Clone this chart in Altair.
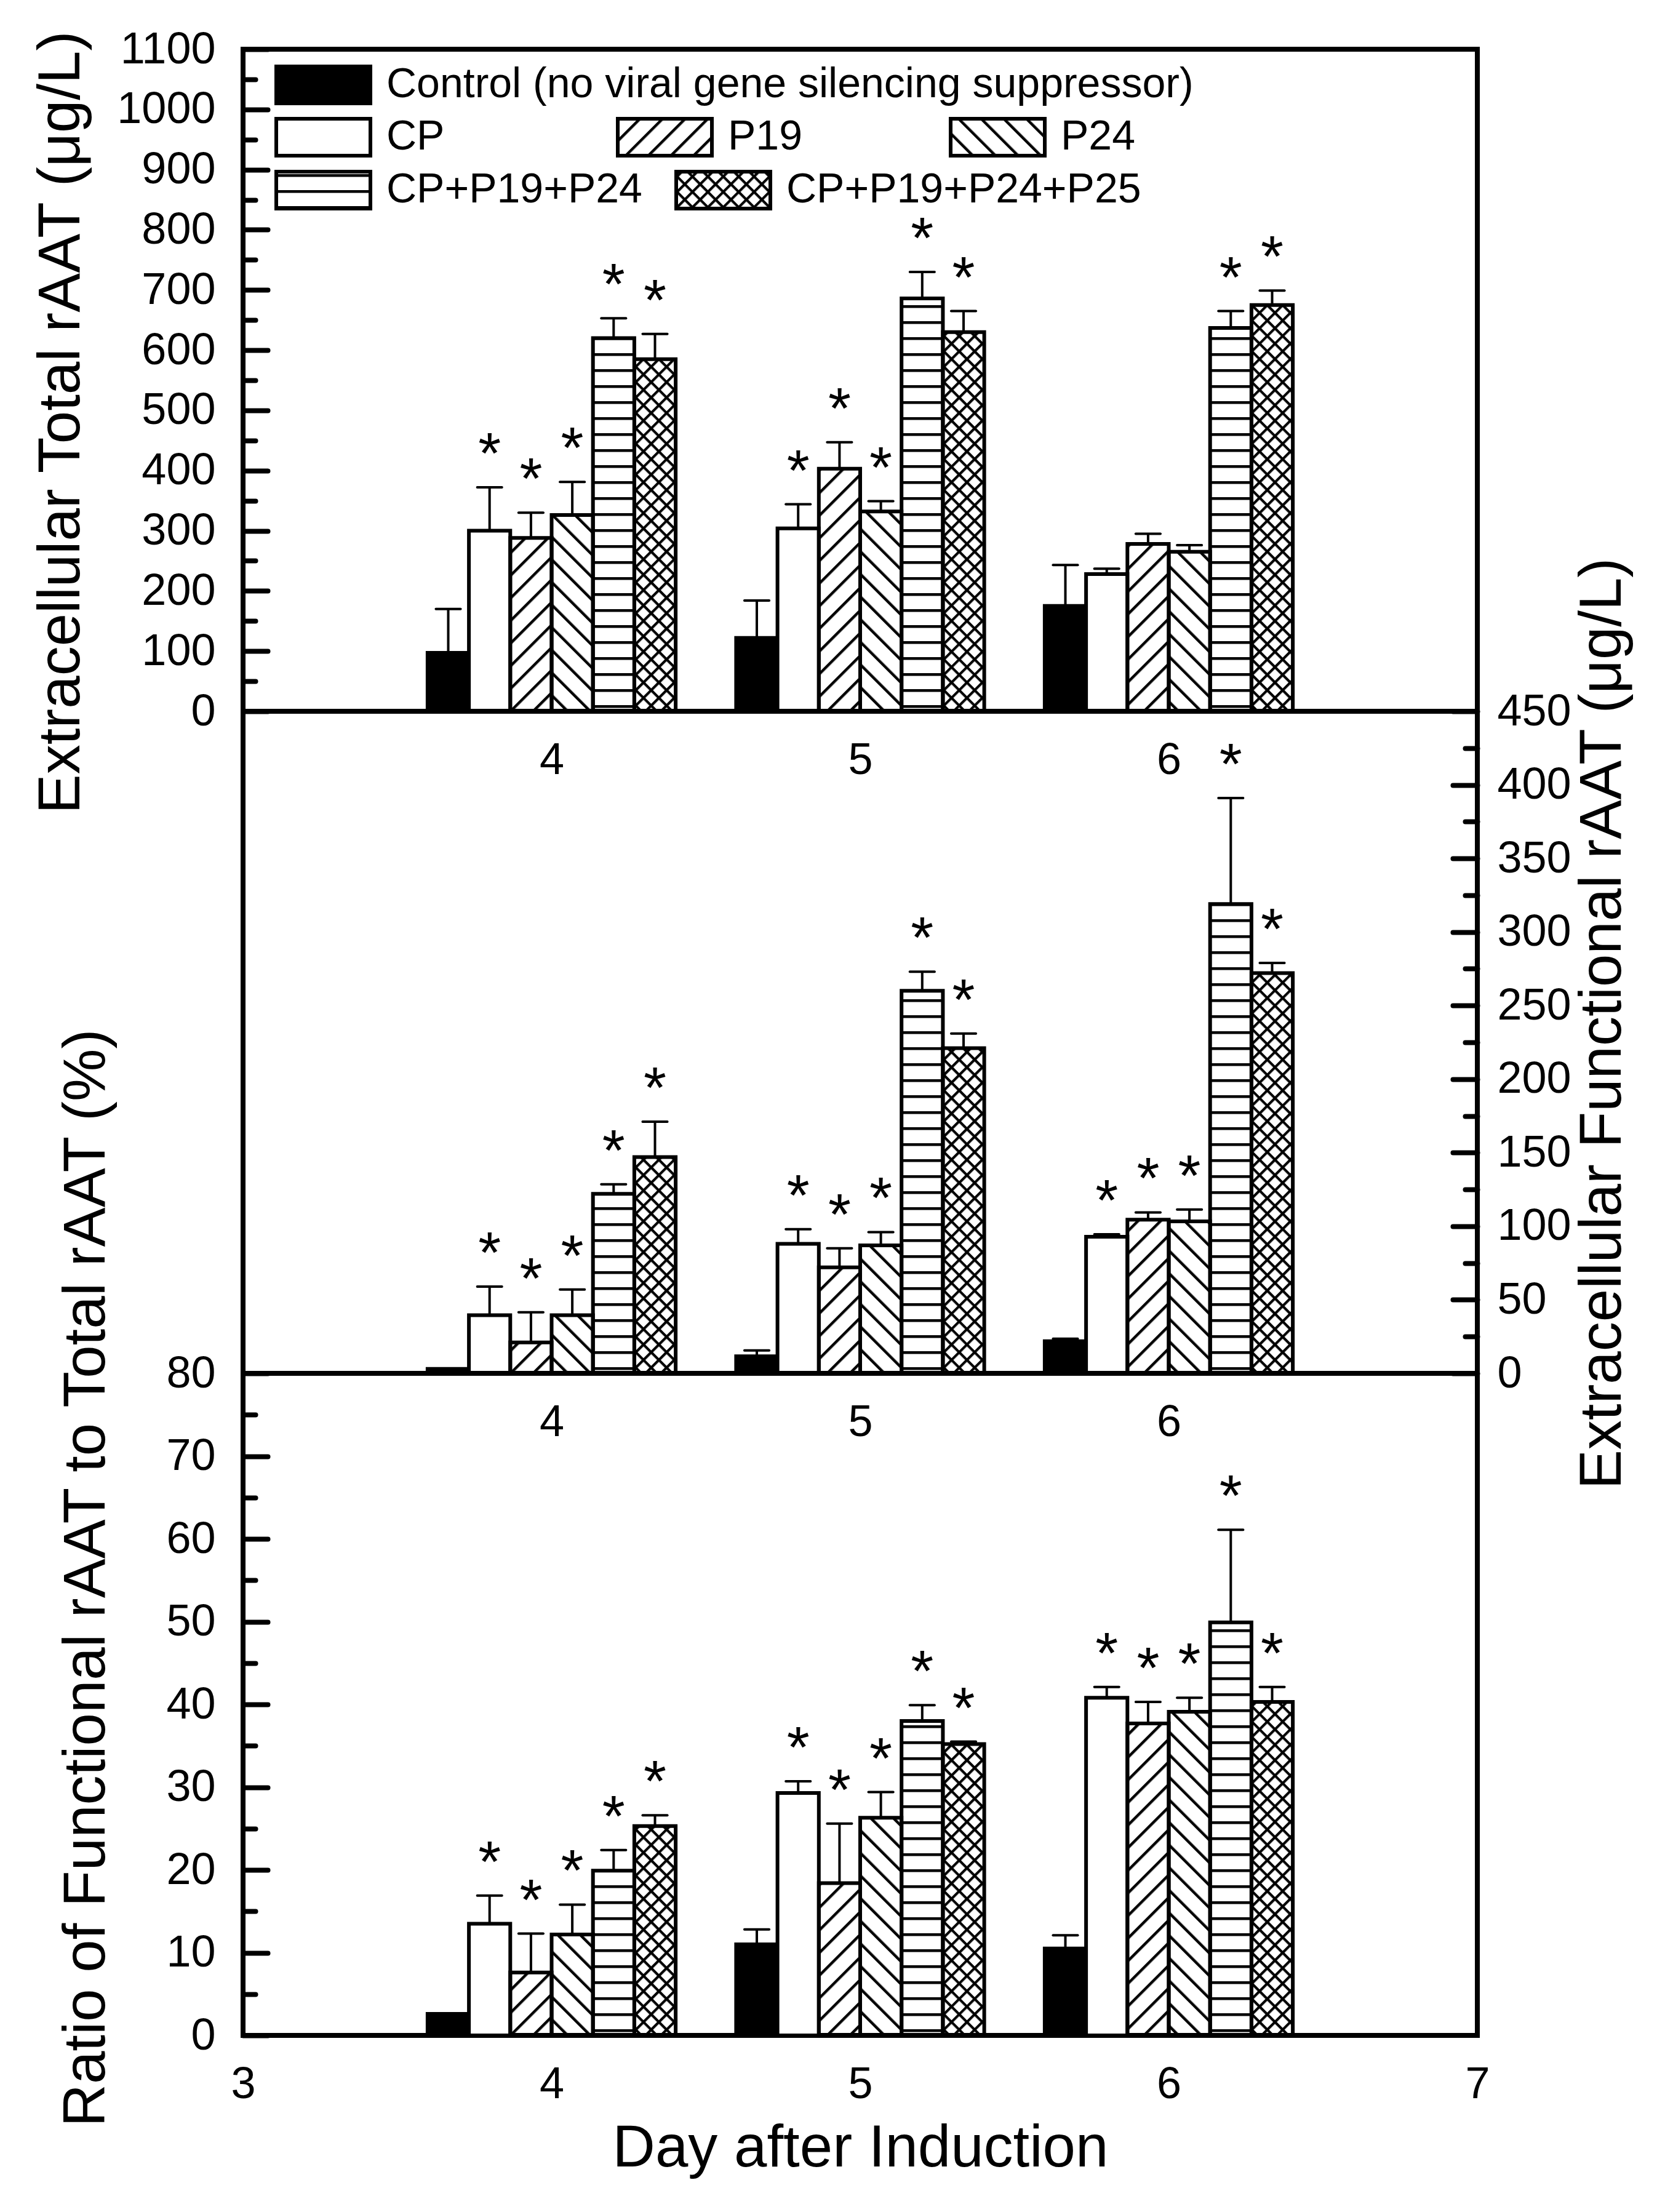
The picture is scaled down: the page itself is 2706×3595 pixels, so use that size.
import altair as alt
import pandas as pd
import jinja2
from altair.utils.html import TEMPLATES

# ---------------- data ----------------
days = [4, 5, 6]
groups = [
    "Control (no viral gene silencing suppressor)",
    "CP",
    "P19",
    "P24",
    "CP+P19+P24",
    "CP+P19+P24+P25",
]

# rows = day 4, 5, 6 ; columns = groups
total_mean = [
    [97, 300, 288, 326, 620, 585],
    [122, 304, 403, 332, 686, 630],
    [175, 228, 278, 265, 637, 675],
]
total_err = [
    [73, 72, 42, 55, 33, 42],
    [62, 40, 44, 17, 44, 35],
    [68, 9, 17, 11, 28, 24],
]
total_star = [
    [0, 1, 1, 1, 1, 1],
    [0, 1, 1, 1, 1, 1],
    [0, 0, 0, 0, 1, 1],
]

func_mean = [
    [3, 39.5, 21, 39.5, 122, 147],
    [11.6, 88, 72, 87, 260, 221],
    [21.9, 92.8, 104.4, 103.3, 319, 272],
]
func_err = [
    [0, 19.5, 20.5, 17.5, 6.5, 24],
    [4, 10, 13, 9, 13, 10],
    [1.6, 1.7, 5, 8, 72, 7],
]
func_star = [
    [0, 1, 1, 1, 1, 1],
    [0, 1, 1, 1, 1, 1],
    [0, 1, 1, 1, 1, 1],
]

ratio_mean = [
    [2.6, 13.5, 7.6, 12.2, 19.9, 25.3],
    [11.0, 29.3, 18.4, 26.3, 38.0, 35.2],
    [10.5, 40.8, 37.7, 39.1, 49.9, 40.3],
]
ratio_err = [
    [0, 3.4, 4.7, 3.6, 2.5, 1.3],
    [1.8, 1.4, 7.2, 3.1, 1.9, 0.3],
    [1.6, 1.3, 2.6, 1.7, 11.2, 1.8],
]
ratio_star = [
    [0, 1, 1, 1, 1, 1],
    [0, 1, 1, 1, 1, 1],
    [0, 1, 1, 1, 1, 1],
]

total_ticks = list(range(0, 1101, 100))
total_minor = list(range(50, 1100, 100))
func_ticks = list(range(0, 451, 50))
func_minor = list(range(25, 450, 50))
ratio_ticks = list(range(0, 81, 10))
ratio_minor = list(range(5, 80, 10))
day_labels_inner = [4, 5, 6]
day_labels_outer = [3, 4, 5, 6, 7]

# ---------------- styles ----------------
FONT = "Liberation Sans"
STEP = 0.134      # bar width / spacing in day units
CAP = 0.08        # error-bar cap width in day units
W, H = 2006, 1076
TITLE_SIZE = 96
LABEL_SIZE = 72
STAR_SIZE = 95

FILLS = {
    groups[0]: "black",
    groups[1]: "white",
    groups[2]: "url(#hatchP19)",
    groups[3]: "url(#hatchP24)",
    groups[4]: "url(#hatchH)",
    groups[5]: "url(#hatchX)",
}
# legend symbol left x and centre y, relative to the top panel
LEG_POS = {
    groups[0]: (51, 55),
    groups[1]: (51, 140),
    groups[2]: (606, 140),
    groups[3]: (1147, 140),
    groups[4]: (51, 226),
    groups[5]: (701, 226),
}
SYM_W = 153
RECT_PATH = "M-1,-0.392H1V0.392H-1Z"

PATTERN_DEFS = """
<svg width="0" height="0" style="position:absolute;left:0;top:0" aria-hidden="true">
 <defs>
  <pattern id="hatchP19" patternUnits="userSpaceOnUse" width="26" height="26" patternTransform="rotate(45)">
   <rect x="0" y="0" width="4.5" height="26" fill="black"/>
  </pattern>
  <pattern id="hatchP24" patternUnits="userSpaceOnUse" width="26" height="26" patternTransform="rotate(-45)">
   <rect x="0" y="0" width="4.5" height="26" fill="black"/>
  </pattern>
  <pattern id="hatchH" patternUnits="userSpaceOnUse" width="26" height="26">
   <rect x="0" y="0" width="26" height="4.5" fill="black"/>
  </pattern>
  <pattern id="hatchX" patternUnits="userSpaceOnUse" width="17.7" height="17.7" patternTransform="rotate(45)">
   <rect x="0" y="0" width="4.2" height="17.7" fill="black"/>
   <rect x="0" y="0" width="17.7" height="4.2" fill="black"/>
  </pattern>
 </defs>
</svg>
"""

_BASE_TEMPLATE = TEMPLATES["standard"]


class PatternTemplate(jinja2.Template):
    def render(self, *args, **kwargs):
        html = _BASE_TEMPLATE.render(*args, **kwargs)
        if '<div id="' in html:
            return html.replace('<div id="', PATTERN_DEFS + '<div id="', 1)
        return html.replace("<body>", "<body>" + PATTERN_DEFS, 1)


def panel(means, errs, stars, ymax, major, minor, side, ytitle, ytitle_x, ytitle_y,
          xvals, xtitle, show_legend):
    rows = []
    for di, d in enumerate(days):
        for gi, g in enumerate(groups):
            rows.append(dict(day=d, group=g, gidx=gi, mean=means[di][gi],
                             err=errs[di][gi], star=stars[di][gi]))
    df = pd.DataFrame(rows)
    base = alt.Chart(df).transform_calculate(
        xc=f"datum.day + (datum.gidx - 2.5) * {STEP}",
        top="datum.mean + datum.err",
        zero="0",
    ).transform_calculate(
        x0=f"datum.xc - {STEP / 2}",
        x1=f"datum.xc + {STEP / 2}",
        c0=f"datum.xc - {CAP / 2}",
        c1=f"datum.xc + {CAP / 2}",
    )
    xs = alt.Scale(domain=[3, 7], nice=False, zero=False)
    ys = alt.Scale(domain=[0, ymax], nice=False, zero=False)
    left = side == "left"

    ylab = alt.Axis(
        orient=side, values=major, format="d", ticks=False, tickSize=0, domain=False,
        grid=False, labelPadding=45 if left else 32, labelFontSize=LABEL_SIZE,
        labelFont=FONT, labelColor="black", labelFlush=False, labelOverlap=False,
        labelLimit=1000, title=ytitle, titleFontSize=TITLE_SIZE, titleFont=FONT,
        titleFontWeight="normal", titleColor="black", titleAngle=270,
        titleAlign="center", titleBaseline="alphabetic", titleX=ytitle_x,
        titleY=ytitle_y, titleLimit=4000,
    )
    ymaj = alt.Axis(orient=side, values=major, labels=False, domain=False, grid=False,
                    ticks=True, tickSize=40, tickWidth=8, tickColor="black",
                    tickCap="round", offset=-40, title=None)
    ymin = alt.Axis(orient=side, values=minor, labels=False, domain=False, grid=False,
                    ticks=True, tickSize=20, tickWidth=8, tickColor="black",
                    tickCap="round", offset=-20, title=None)
    xkw = dict(orient="bottom", values=xvals, format="d", ticks=False, tickSize=0,
               domain=False, grid=False, labelPadding=44, labelFontSize=LABEL_SIZE,
               labelFont=FONT, labelColor="black", labelFlush=False, labelOverlap=False)
    if xtitle:
        xkw.update(title=xtitle, titleFontSize=TITLE_SIZE, titleFont=FONT,
                   titleFontWeight="normal", titleColor="black", titleY=212,
                   titleBaseline="alphabetic")
    else:
        xkw.update(title=None)
    xlab = alt.Axis(**xkw)

    layers = []
    if show_legend:
        for i, g in enumerate(groups):
            lx, ly = LEG_POS[g]
            leg = alt.Legend(
                orient="none", legendX=lx, legendY=ly - SYM_W / 2,
                title=None, symbolType=RECT_PATH, symbolSize=SYM_W ** 2,
                symbolStrokeColor="black", symbolStrokeWidth=6, symbolOffset=0,
                labelFontSize=68, labelFont=FONT, labelColor="black", labelOffset=23,
                labelLimit=3000, padding=0, offset=0,
            )
            layers.append(
                base.transform_filter(alt.datum.gidx == i)
                .mark_rect(stroke="black", strokeWidth=6)
                .encode(
                    x=alt.X("x0:Q", scale=xs, axis=xlab if i == 0 else None),
                    x2="x1:Q",
                    y=alt.Y("mean:Q", scale=ys, axis=ylab if i == 0 else None),
                    y2="zero:Q",
                    fill=alt.Fill("group:N", scale=alt.Scale(domain=[g], range=[FILLS[g]]),
                                  legend=leg),
                )
            )
    else:
        layers.append(
            base.mark_rect(stroke="black", strokeWidth=6).encode(
                x=alt.X("x0:Q", scale=xs, axis=xlab),
                x2="x1:Q",
                y=alt.Y("mean:Q", scale=ys, axis=ylab),
                y2="zero:Q",
                fill=alt.Fill("group:N",
                              scale=alt.Scale(domain=groups, range=[FILLS[g] for g in groups]),
                              legend=None),
            )
        )
    err = base.transform_filter(alt.datum.err > 0)
    layers.append(
        err.mark_rule(color="black", strokeWidth=4).encode(
            x=alt.X("xc:Q", scale=xs, axis=None),
            y=alt.Y("mean:Q", scale=ys, axis=ymaj),
            y2="top:Q",
        )
    )
    layers.append(
        err.mark_rule(color="black", strokeWidth=4, strokeCap="round").encode(
            x=alt.X("c0:Q", scale=xs, axis=None),
            x2="c1:Q",
            y=alt.Y("top:Q", scale=ys, axis=ymin),
        )
    )
    layers.append(
        base.transform_filter(alt.datum.star == 1)
        .mark_text(text="*", fontSize=STAR_SIZE, font=FONT, baseline="alphabetic",
                   dy=-23, color="black")
        .encode(
            x=alt.X("xc:Q", scale=xs, axis=None),
            y=alt.Y("top:Q", scale=ys, axis=None),
        )
    )
    return (
        alt.layer(*layers)
        .resolve_scale(fill="independent")
        .resolve_axis(x="independent", y="independent")
        .resolve_legend(fill="independent")
        .properties(width=W, height=H)
    )


top = panel(total_mean, total_err, total_star, 1100, total_ticks, total_minor, "left",
            "Extracellular Total rAAT (\u03bcg/L)", -267, 606, day_labels_inner, None, True)
mid = panel(func_mean, func_err, func_star, 450, func_ticks, func_minor, "right",
            "Extracellular Functional rAAT (\u03bcg/L)", 232, 507, day_labels_inner, None, False)
bot = panel(ratio_mean, ratio_err, ratio_star, 80, ratio_ticks, ratio_minor, "left",
            "Ratio of Functional rAAT to Total rAAT (%)", -226, 332, day_labels_outer,
            "Day after Induction", False)

chart = (
    alt.vconcat(top, mid, bot, spacing=0, bounds="flush")
    .resolve_scale(y="independent", fill="independent")
    .resolve_axis(x="independent", y="independent")
    .resolve_legend(fill="independent")
    .configure(font=FONT, background="white")
    .configure_view(stroke="black", strokeWidth=8)
    .properties(padding={"left": 38, "top": 32, "right": 10, "bottom": 10})
)

chart.save("out.html", embed_options={"renderer": "svg", "actions": False},
           template=PatternTemplate(""))
